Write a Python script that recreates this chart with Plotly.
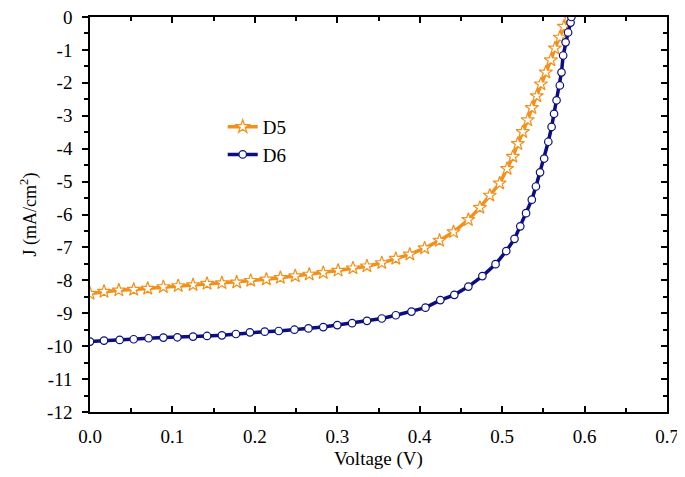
import plotly.graph_objects as go

# D5 (orange, stars)
d5_v = [0.000, 0.017, 0.035, 0.053, 0.070, 0.089, 0.107, 0.125, 0.142, 0.160,
        0.178, 0.195, 0.214, 0.231, 0.249, 0.266, 0.283, 0.301, 0.319, 0.336,
        0.354, 0.371, 0.388, 0.406, 0.424, 0.441, 0.459, 0.473, 0.485, 0.497,
        0.506, 0.513, 0.519, 0.525, 0.531, 0.536, 0.542, 0.547, 0.553, 0.559,
        0.564, 0.570, 0.575, 0.580]
d5_j = [-8.40, -8.34, -8.30, -8.28, -8.25, -8.20, -8.17, -8.14, -8.10, -8.08,
        -8.06, -8.01, -7.97, -7.92, -7.87, -7.82, -7.77, -7.70, -7.63, -7.57,
        -7.47, -7.34, -7.21, -7.02, -6.79, -6.53, -6.16, -5.79, -5.42, -5.05,
        -4.61, -4.24, -3.85, -3.49, -3.13, -2.76, -2.40, -2.04, -1.68, -1.31,
        -0.95, -0.62, -0.29, 0.00]

# D6 (navy, circles)
d6_v = [0.000, 0.017, 0.036, 0.053, 0.071, 0.089, 0.106, 0.125, 0.142, 0.160,
        0.177, 0.194, 0.212, 0.229, 0.248, 0.265, 0.283, 0.300, 0.318, 0.336,
        0.354, 0.371, 0.390, 0.407, 0.425, 0.442, 0.459, 0.476, 0.492, 0.505,
        0.515, 0.522, 0.529, 0.536, 0.541, 0.546, 0.551, 0.556, 0.560, 0.563,
        0.566, 0.570, 0.572, 0.574, 0.577, 0.580, 0.583, 0.584]
d6_j = [-9.86, -9.83, -9.81, -9.79, -9.76, -9.74, -9.73, -9.71, -9.69, -9.67,
        -9.63, -9.58, -9.56, -9.54, -9.50, -9.46, -9.42, -9.36, -9.30, -9.23,
        -9.16, -9.06, -8.95, -8.83, -8.60, -8.44, -8.19, -7.87, -7.51, -7.11,
        -6.74, -6.36, -5.96, -5.55, -5.15, -4.72, -4.30, -3.79, -3.34, -2.94,
        -2.53, -2.08, -1.68, -1.17, -0.77, -0.47, -0.17, 0.00]

x_ticks = [0.0, 0.1, 0.2, 0.3, 0.4, 0.5, 0.6, 0.7]
x_ticklabels = ["0.0", "0.1", "0.2", "0.3", "0.4", "0.5", "0.6", "0.7"]
y_ticks = [0, -1, -2, -3, -4, -5, -6, -7, -8, -9, -10, -11, -12]
y_ticklabels = ["0", "-1", "-2", "-3", "-4", "-5", "-6", "-7", "-8", "-9",
                "-10", "-11", "-12"]

x_range = [0.0, 0.7]
y_range = [-12, 0]

ORANGE = "#F39019"
NAVY = "#0B0F80"
FONT = "Liberation Serif"

fig = go.Figure()
fig.add_trace(go.Scatter(
    x=d5_v, y=d5_j, name="D5", mode="lines+markers",
    line=dict(color=ORANGE, width=3.5),
    marker=dict(symbol="star", size=10, color="white",
                line=dict(color=ORANGE, width=1.2)),
))
fig.add_trace(go.Scatter(
    x=d6_v, y=d6_j, name="D6", mode="lines+markers",
    line=dict(color=NAVY, width=3.5),
    marker=dict(symbol="circle", size=7.5, color="white",
                line=dict(color=NAVY, width=1.2)),
))
# empty trace to host the right-hand tick axis
fig.add_trace(go.Scatter(x=[], y=[], yaxis="y2", showlegend=False, hoverinfo="skip"))

tickfont = dict(family=FONT, size=19, color="black")
fig.update_layout(
    width=677, height=469,
    margin=dict(l=82, r=18, t=9, b=65),
    paper_bgcolor="white", plot_bgcolor="white",
    font=dict(family=FONT, size=18, color="black"),
    showlegend=True,
    legend=dict(x=0.23, y=0.77, xanchor="left", yanchor="top",
                bgcolor="rgba(0,0,0,0)", font=dict(family=FONT, size=19),
                itemwidth=30, tracegroupgap=0),
    xaxis=dict(range=x_range, tickmode="array", tickvals=x_ticks,
               ticktext=x_ticklabels, automargin=False,
               ticklabeloverflow="allow",
               showgrid=False, zeroline=False, showline=True,
               linecolor="black", linewidth=1.5, mirror="ticks",
               ticks="inside", ticklen=6, tickwidth=1.5, tickcolor="black",
               ticklabelstandoff=6,
               minor=dict(dtick=0.05, tick0=0, ticks="inside", ticklen=4,
                          tickwidth=1.5, tickcolor="black", showgrid=False),
               tickfont=tickfont,
               title=dict(text="Voltage (V)", font=dict(family=FONT, size=19),
                          standoff=6)),
    yaxis=dict(range=y_range, tickmode="array", tickvals=y_ticks,
               ticktext=y_ticklabels, automargin=False,
               ticklabeloverflow="allow",
               showgrid=False, zeroline=False, showline=True,
               linecolor="black", linewidth=1.5, mirror=True,
               ticks="outside", ticklen=6, tickwidth=1.5, tickcolor="black",
               ticklabelstandoff=6,
               minor=dict(dtick=0.5, tick0=0, ticks="outside", ticklen=4,
                          tickwidth=1.5, tickcolor="black", showgrid=False),
               tickfont=tickfont,
               title=dict(text="J (mA/cm<sup>2</sup>)",
                          font=dict(family=FONT, size=18), standoff=6)),
    yaxis2=dict(range=y_range, dtick=1, tick0=0, overlaying="y", side="right",
                automargin=False,
                showgrid=False, zeroline=False, showline=False,
                ticks="inside", ticklen=6, tickwidth=1.5, tickcolor="black",
                minor=dict(dtick=0.5, tick0=0, ticks="inside", ticklen=4,
                           tickwidth=1.5, tickcolor="black", showgrid=False),
                showticklabels=False),
)

fig.write_html("out.html")
